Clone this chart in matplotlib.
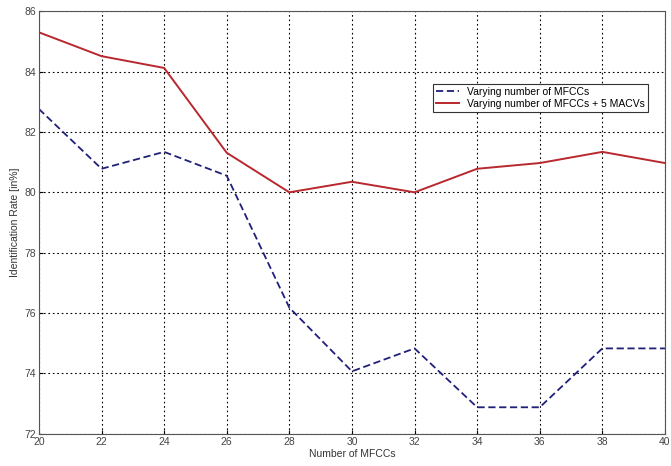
import numpy as np
import matplotlib.pyplot as plt

plt.rcParams['font.family'] = ['Liberation Sans', 'DejaVu Sans']

n_mfcc = [20, 22, 24, 26, 28, 30, 32, 34, 36, 38, 40]
rate_mfcc = [82.76, 80.78, 81.34, 80.55, 76.18, 74.07, 74.83, 72.88, 72.88, 74.83, 74.83]
rate_mfcc_macv = [85.3, 84.51, 84.12, 81.31, 80.0, 80.35, 80.0, 80.78, 80.97, 81.34, 80.97]
x_ticks = [20, 22, 24, 26, 28, 30, 32, 34, 36, 38, 40]
y_ticks = [72, 74, 76, 78, 80, 82, 84, 86]

fig = plt.figure(figsize=(6.71, 4.66), dpi=100)
ax = fig.add_axes([0.058, 0.069, 0.933, 0.907])

ax.plot(n_mfcc, rate_mfcc, '--', color='#20207a', lw=1.3, dashes=(4, 2),
        label='Varying number of MFCCs')
ax.plot(n_mfcc, rate_mfcc_macv, '-', color='#b8282e', lw=1.4,
        label='Varying number of MFCCs + 5 MACVs')

ax.set_xlim(20, 40)
ax.set_ylim(72, 86)
ax.set_xticks(x_ticks)
ax.set_yticks(y_ticks)
ax.tick_params(direction='in', labelsize=7.5, labelcolor='#444444', length=3, pad=2)
ax.grid(True, color='black', linestyle=(0, (1.5, 2.5)), lw=0.8)
for s in ax.spines.values():
    s.set_color('#555555')
    s.set_linewidth(0.8)

ax.set_xlabel('Number of MFCCs', fontsize=7.5, color='#333333', labelpad=2)
ax.set_ylabel('Identification Rate [in%]', fontsize=7.5, color='#333333', labelpad=3)

leg = ax.legend(loc='upper left', bbox_to_anchor=(0.621, 0.84), fontsize=7.5,
                fancybox=False, edgecolor='#333333', framealpha=1,
                handlelength=2.2, borderpad=0.3, labelspacing=0.15)
leg.get_frame().set_linewidth(0.8)

fig.savefig('out.png', dpi=100)
